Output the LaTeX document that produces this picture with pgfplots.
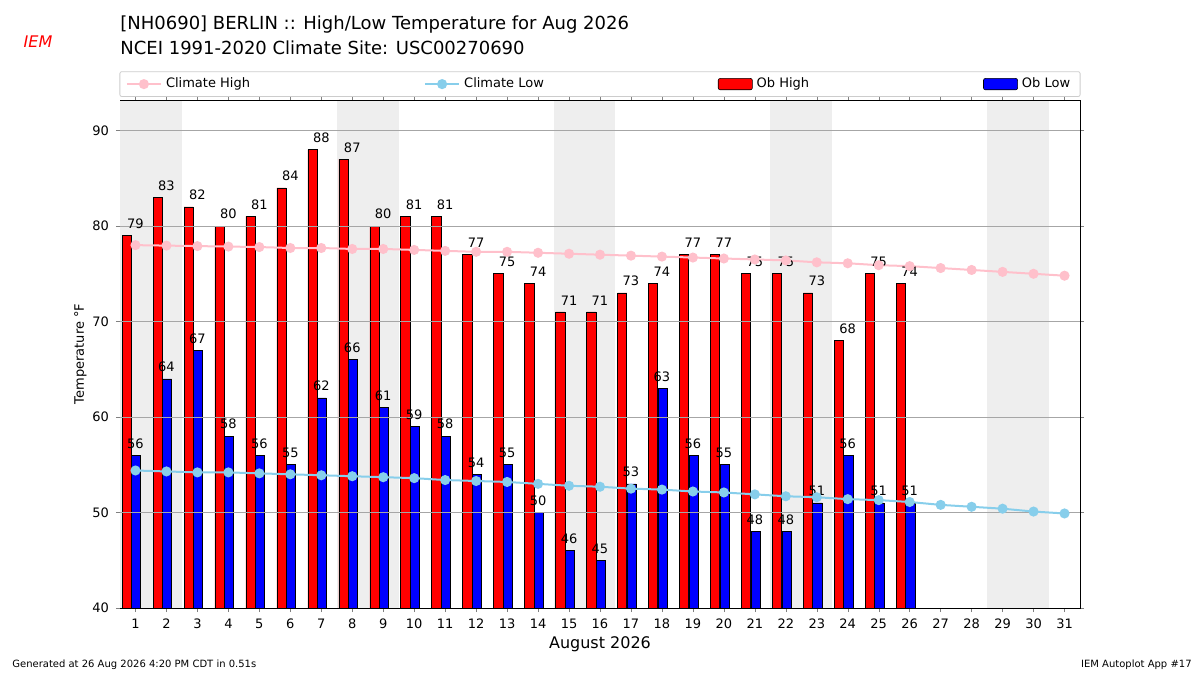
\documentclass[border=0pt]{standalone}
\usepackage{pgfplots}
\pgfplotsset{compat=1.18}
\usepackage{fontspec}
\setmainfont{DejaVu Sans}
\definecolor{chigh}{RGB}{255,192,203}
\definecolor{clow}{RGB}{135,206,235}
\pgfplotsset{wkend/.style={fill=gray!13, draw=none, forget plot},
  gl/.style={gray!70, line width=0.4pt, forget plot}}
\begin{document}
\begin{tikzpicture}[x=1pt,y=1pt]
\path[use as bounding box] (-60,-33.5) rectangle (540,304);
\begin{axis}[
  at={(0,0)}, anchor=south west, scale only axis,
  width=480pt, height=254pt,
  xmin=0.5, xmax=31.5, ymin=40, ymax=93.2,
  xtick={1,...,31}, ytick={40,50,...,90},
  tick label style={font=\fontsize{6.5}{7}\selectfont},
  /pgf/number format/assume math mode=true,
  xlabel={August 2026}, xlabel style={font=\fontsize{8}{9}\selectfont, yshift=3pt},
  ylabel={Temperature °F}, ylabel style={font=\fontsize{6.5}{7}\selectfont, yshift=-4pt},
  tick align=outside, major tick length=2pt,
  legend columns=4,
  legend style={at={(0.5,1.006)}, anchor=south, font=\fontsize{6.5}{7}\selectfont,
    draw=gray!40, rounded corners=1pt, inner ysep=1pt,
    /tikz/every even column/.append style={column sep=85pt}},
  nodes near coords style={font=\fontsize{6.5}{7}\selectfont, black},
]
\addplot[wkend] coordinates {(0.5,40)(2.5,40)(2.5,93.1)(0.5,93.1)} -- cycle;
\addplot[wkend] coordinates {(7.5,40)(9.5,40)(9.5,93.1)(7.5,93.1)} -- cycle;
\addplot[wkend] coordinates {(14.5,40)(16.5,40)(16.5,93.1)(14.5,93.1)} -- cycle;
\addplot[wkend] coordinates {(21.5,40)(23.5,40)(23.5,93.1)(21.5,93.1)} -- cycle;
\addplot[wkend] coordinates {(28.5,40)(30.5,40)(30.5,93.1)(28.5,93.1)} -- cycle;
\addlegendimage{chigh, line width=1pt, mark=*, mark size=2pt}
\addlegendentry{Climate High}
\addlegendimage{clow, line width=1pt, mark=*, mark size=2pt}
\addlegendentry{Climate Low}
\addplot[ybar, bar width=4.6pt, bar shift=-4.4pt, fill=red, draw=black, line width=0.3pt,
  nodes near coords, area legend] coordinates {
(1,79)(2,83)(3,82)(4,80)(5,81)(6,84)(7,88)(8,87)(9,80)(10,81)(11,81)(12,77)(13,75)
(14,74)(15,71)(16,71)(17,73)(18,74)(19,77)(20,77)(21,75)(22,75)(23,73)(24,68)(25,75)(26,74)};
\addlegendentry{Ob High}
\addplot[ybar, bar width=4.6pt, bar shift=0.3pt, fill=blue, draw=black, line width=0.3pt,
  nodes near coords, area legend] coordinates {
(1,56)(2,64)(3,67)(4,58)(5,56)(6,55)(7,62)(8,66)(9,61)(10,59)(11,58)(12,54)(13,55)
(14,50)(15,46)(16,45)(17,53)(18,63)(19,56)(20,55)(21,48)(22,48)(23,51)(24,56)(25,51)(26,51)};
\addlegendentry{Ob Low}
\addplot[gl] coordinates {(0.5,50)(31.5,50)};
\addplot[gl] coordinates {(0.5,60)(31.5,60)};
\addplot[gl] coordinates {(0.5,70)(31.5,70)};
\addplot[gl] coordinates {(0.5,80)(31.5,80)};
\addplot[gl] coordinates {(0.5,90)(31.5,90)};
\addplot[chigh, line width=1pt, mark=*, mark size=2pt, forget plot] coordinates {
(1,78.0)(2,77.95)(3,77.9)(4,77.85)(5,77.8)(6,77.7)(7,77.7)(8,77.6)(9,77.6)(10,77.5)
(11,77.4)(12,77.3)(13,77.3)(14,77.2)(15,77.1)(16,77.0)(17,76.9)(18,76.8)(19,76.7)(20,76.6)
(21,76.5)(22,76.4)(23,76.2)(24,76.1)(25,75.9)(26,75.8)(27,75.6)(28,75.4)(29,75.2)(30,75.0)(31,74.8)};
\addplot[clow, line width=1pt, mark=*, mark size=2pt, forget plot] coordinates {
(1,54.4)(2,54.3)(3,54.2)(4,54.2)(5,54.1)(6,54.0)(7,53.9)(8,53.8)(9,53.7)(10,53.6)
(11,53.4)(12,53.3)(13,53.2)(14,53.0)(15,52.8)(16,52.7)(17,52.5)(18,52.4)(19,52.2)(20,52.1)
(21,51.9)(22,51.7)(23,51.6)(24,51.4)(25,51.3)(26,51.1)(27,50.8)(28,50.6)(29,50.4)(30,50.1)(31,49.9)};
\end{axis}
\node[anchor=west, inner sep=0, font=\fontsize{9}{11}\selectfont] at (0,291.5) {[NH0690] BERLIN :: High/Low Temperature for Aug 2026};
\node[anchor=west, inner sep=0, font=\fontsize{9}{11}\selectfont] at (0,280) {NCEI 1991-2020 Climate Site: USC00270690};
\node[anchor=west, inner sep=0, font=\fontsize{5}{6}\selectfont] at (-54,-28.5) {Generated at 26 Aug 2026 4:20 PM CDT in 0.51s};
\node[anchor=east, inner sep=0, font=\fontsize{5}{6}\selectfont] at (536,-28.5) {IEM Autoplot App \#17};
\node[text=red, font=\fontsize{8}{9}\selectfont\itshape] at (-41,283) {IEM};
\end{tikzpicture}
\end{document}
